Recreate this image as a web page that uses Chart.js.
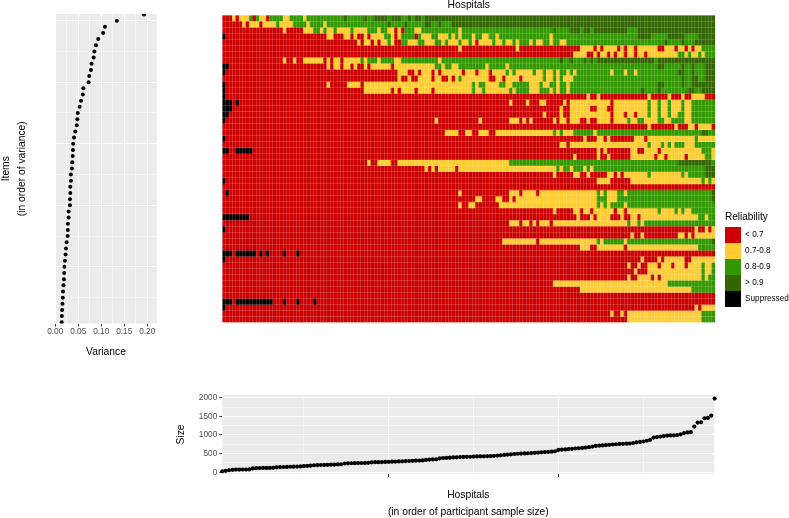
<!DOCTYPE html>
<html>
<head>
<meta charset="utf-8">
<style>
html,body{margin:0;padding:0;background:#fff;width:789px;height:518px;overflow:hidden}
canvas{position:absolute}
</style>
<script src="https://cdn.jsdelivr.net/npm/chart.js@4"></script>
</head>
<body>
<canvas id="variance" width="185" height="370" style="left:-10px;top:0"></canvas>
<canvas id="heat" width="789" height="340" style="left:0;top:-4px"></canvas>
<canvas id="size" width="560" height="140" style="left:170px;top:385px"></canvas>
<script>
// Variance of each item, from the top row of the panel to the bottom row
const itemVariance = [0.193,0.134,0.108,0.104,0.0935,0.0885,0.085,0.0835,0.079,0.0776,0.074,0.0726,0.061,0.060,0.056,0.053,0.049,0.048,0.047,0.0435,0.0407,0.039,0.0385,0.038,0.037,0.0363,0.034,0.0341,0.0327,0.0327,0.032,0.032,0.0291,0.0291,0.0276,0.0272,0.0269,0.0247,0.0233,0.0225,0.0211,0.02,0.0196,0.0189,0.0178,0.0171,0.0164,0.0157,0.015,0.0143,0.014];
const varianceTicks = [0,0.025,0.05,0.075,0.1,0.125,0.15,0.175,0.2];
const varianceMajor = [0,0.05,0.1,0.15,0.2];
const itemTicks = [5,10,15,20,25,30,35,40,45,50];
const itemMajor = [10,20,30,40,50];

// Participant sample size per hospital
const hospitalSize = [28,38,55,66,72,72,74,74,76,104,110,114,116,116,118,120,134,140,142,144,148,150,153,158,165,170,178,188,192,195,198,200,204,208,210,216,236,240,242,245,246,248,250,253,266,270,272,275,278,281,285,288,291,295,300,303,306,310,315,319,331,340,345,349,375,383,386,392,398,402,408,411,414,416,420,424,427,429,431,434,440,448,456,466,474,482,490,497,502,506,510,516,522,529,536,541,546,552,562,600,608,613,620,630,637,645,653,662,672,688,706,714,720,726,736,745,752,760,764,768,772,785,800,815,825,845,870,930,945,958,972,983,988,992,1000,1019,1050,1068,1075,1225,1332,1341,1448,1457,1520,1976];
const sizeTicksY = [0,250,500,750,1000,1250,1500,1750,2000];
const sizeMajorY = [0,500,1000,1500,2000];
const sizeTicksX = [25,50,75,100,125];
const sizeMajorX = [50,100];

// Reliability categories
const legendLabels = ['< 0.7','0.7-0.8','0.8-0.9','> 0.9','Suppressed'];
const legendCodes = ['R','Y','G','D','K'];
const legendColors = ['#CC0000','#FFCC33','#339900','#336600','#000000'];
const hospitalCount = 146;

// Reliability per row: each token is a category code and the column where it starts
const reliabilityRows = [
"R0 Y3 R4 Y5 G8 R9 G10 Y11 R13 G14 Y18 G20 Y24 G25 D36 G37 D42 G43 D45 G49 D50 G53 D55 G56 D57 G59 D60",
"R0 Y6 R7 Y8 R11 Y12 G16 Y17 G21 Y25 G26 Y30 G31 D49 G50 D54 G55 D60 G62 D64 G65 D68",
"R0 Y18 R19 Y24 G27 Y29 G30 Y31 G33 Y34 G38 Y39 G43 Y46 G47 Y49 R51 Y52 R53 G54 Y57 G59 Y70 G71 D98 G99 D103 G106 D107 G109 D110 G120 D123",
"K0 R1 Y31 R33 Y36 R38 Y39 R40 Y42 R43 Y44 G48 Y50 R51 Y52 G53 R57 G58 Y59 G62 Y64 G67 Y68 G69 Y70 G71 Y74 G75 Y77 G79 Y81 G82 Y97 G98 D123 G127 D132 G137 D141",
"R0 Y40 R41 Y42 R44 Y45 R46 Y47 G49 Y50 R51 G53 Y55 G58 Y60 G63 Y65 G66 Y67 G70 Y71 G73 Y74 R75 Y76 G80 Y81 G83 Y84 G86 Y87 G88 Y91 G92 Y93 G95 Y97 G98 Y100 G102 D131 G132 D136 G137 D140",
"R0 Y70 R71 Y87 R88 Y106 R110 Y111 R112 Y113 R117 Y118 R119 Y120 R122 Y123 R129 Y131 R134 Y135 R137 Y138 R139 Y140 G142",
"R0 Y104 R108 Y110 R111 Y112 R114 Y115 R116 Y117 R119 Y120 R122 Y123 R125 Y126 G135 Y137 G138 Y139 G141 Y142 G143",
"R0 Y18 R19 Y21 R22 Y24 R30 Y31 R32 Y33 R35 Y36 G41 Y42 G43 Y46 G47 Y51 G53 Y64 G65 D100 G101 D103 G104 D107 G108 D109 G110 D111 G128 D129",
"K0 R2 Y31 R32 Y33 R35 Y36 R38 Y39 R40 Y42 R43 Y44 R50 Y51 G63 Y65 G66 Y68 G70 Y78 G79 Y84 G85 D129 G131 D136 G137 D139 G140 D143",
"K0 R1 Y52 R55 Y57 R58 Y59 R62 Y63 R64 Y65 R71 Y72 R75 Y76 R79 Y80 G84 Y85 G86 Y87 G92 Y93 G95 Y96 G98 Y99 G100 Y102 G103 Y104 G105 Y115 G116 Y119 G120 Y122 G123 D135 G137 D139 G140 D143",
"R0 Y52 R53 Y55 R56 Y58 R62 Y63 R65 Y67 R68 Y69 G70 Y71 R79 Y81 R83 Y84 R88 Y89 G95 Y96 G98 Y99 G100 Y101 G104 D136 G137 D139 G141 D143",
"K0 R1 Y31 R32 Y37 R41 Y42 G74 Y75 G76 Y78 G82 Y84 G86 Y91 G94 Y95 G97 Y99 G100 Y102 G103 D129 G131 D136 G137 D139",
"K0 R1 Y42 R50 Y51 R52 Y53 R57 Y58 R62 Y63 G74 Y75 G77 Y78 G85 Y86 G87 Y91 G94 Y97 G98 Y99 G100 Y102 G103 D124 G125 D129 G130 D138 G140 D142",
"K0 R1 Y108 R109 Y111 R112 Y126 R127 Y132 R133 Y136 R137 Y139 R143",
"K0 R3 K4 R5 Y85 R86 Y90 R91 Y94 R96 Y101 R102 Y103 R115 Y116 G126 Y127 G129 Y130 G132 Y133 G136 Y137 G139",
"K0 R3 Y100 R101 Y103 R109 Y111 R114 Y116 G126 Y127 G129 Y130 G132 Y133 G136 Y137 G139",
"K0 R2 Y95 R96 Y100 R101 Y103 R115 Y116 R119 Y120 R122 Y123 G126 Y127 G129 Y130 G132 Y133 G135 Y137 G139",
"K0 R1 Y63 R64 Y76 R77 Y85 R88 Y89 R90 Y91 R92 Y98 R99 Y100 R102 Y103 R106 Y108 R109 Y111 R115 Y116 G120 Y121 G123 Y125 G129 Y131 G133 Y137 G139",
"R0 Y126 R127 Y134 R135 Y138 R140 Y141 R145",
"R0 Y66 R70 Y72 R74 Y76 R79 Y81 G98 Y99 G100 Y101 G104 Y110 G111 D142 G144",
"K0 R1 Y107 R108 Y111 R113 Y114 R115 Y122 R125 Y126 G140 Y141",
"R0 Y100 R102 Y103 G126 Y127 G130 Y131 G132 Y133 G134 Y137 G140",
"K0 R2 K4 R9 Y111 R112 Y113 R114 Y121 R123 Y125 R129 Y130 G142 Y145",
"R0 Y104 R105 Y111 R112 Y114 R115 Y121 R128 Y129 R131 Y132 R137 Y138 G143 Y145",
"R0 Y43 R44 Y46 R50 Y52 G85 D135 G145",
"R0 Y60 R61 Y62 R63 Y64 R69 Y70 G99 Y100 G101 Y103 G104 Y107 G108 Y109 G110 D143",
"R0 Y98 R99 Y104 R106 Y108 R109 Y114 R116 Y117 R118 Y119 G126 Y127 G136 Y137 G138 D143",
"K0 R1 Y111 R115 Y121 G142 Y143 G144 Y145",
"R0",
"R0 K1 R2 Y70 R71 Y85 R88 Y89 R93 Y94 G111 Y112 G113 Y114 G117 Y119 G120 D145",
"R0 Y75 R77 Y81 R83 Y85 R86 Y87 G111 Y114 G117 D145",
"R0 Y70 R71 Y73 R75 Y82 G111 Y112 G113 Y114 G115 Y119 G120",
"R0 Y98 R99 Y104 R106 Y107 R109 Y110 R116 Y117 R119 Y120 G129 Y130 G134 Y135 G136 Y137 G139",
"K0 R8 Y105 R106 Y109 R110 Y111 R115 Y118 R119 Y121 R123 Y124 G141 Y143 G144",
"R0 Y85 R88 Y89 R91 Y92 R93 Y94 R97 Y98 G120 Y121 G123 Y124 G125",
"K0 R1 Y140 R141 Y143 R144 Y145",
"R0 Y121 R122 Y124 R125 Y135 R137 Y138 R139 Y140",
"R0 Y83 R93 Y94 G111 Y112 G113 Y119 G120 D145",
"R0 Y106 R109 Y111 R119 Y120 G141",
"K0 R3 K4 R10 K11 R12 K13 R14 K18 R19 K22 R23",
"K0 R1 Y124 R125 Y129 R130 Y131 R137 Y139",
"R0 Y120 R121 Y123 R124 Y126 R129 Y130 R133 Y134 R137 Y138 G142 Y143 G145",
"R0 Y122 R123 Y126 G142 Y143 G145",
"R0 Y120 R121 Y123 R127 Y128 R129 Y130 G142 Y143 G144",
"R0 Y98 G132",
"R0 Y106 G139",
"R0",
"K0 R3 K4 R15 K18 R19 K22 R23 K27 R28",
"K0 R1 Y140 R141 Y142",
"R0 Y115 R116 Y118 R119 Y120 G142",
"R0 Y120 G142"
];

Chart.defaults.font.family = '"Liberation Sans", Arial, sans-serif';
Chart.defaults.animation = false;

const FONT = {tick: 8.3, title: 10.3};
const TICK = '#4D4D4D', PANEL = '#EBEBEB';

const panelBg = {
  id: 'panelBg',
  beforeDraw(chart) {
    const a = chart.chartArea, c = chart.ctx;
    c.save(); c.fillStyle = PANEL;
    c.fillRect(a.left, a.top, a.right - a.left, a.bottom - a.top);
    c.restore();
  }
};
const setTicks = list => scale => { scale.ticks = list.map(v => ({value: v})); };
const gridFor = (major, showTick) => ({
  color: '#FFFFFF',
  lineWidth: ctx => major.includes(ctx.tick.value) ? 1 : 0.5,
  tickColor: ctx => showTick && major.includes(ctx.tick.value) ? '#333333' : 'rgba(0,0,0,0)',
  tickLength: 3,
  tickWidth: 1,
  drawTicks: true
});

// Left panel: item variance
new Chart(document.getElementById('variance'), {
  type: 'scatter',
  data: {datasets: [{
    data: itemVariance.map((v, i) => ({x: v, y: itemVariance.length - i})),
    backgroundColor: '#000', borderWidth: 0, pointRadius: 2, clip: 0
  }]},
  options: {
    responsive: false,
    layout: {padding: {top: 14, right: 18}},
    plugins: {legend: {display: false}, tooltip: {enabled: false}},
    scales: {
      x: {
        type: 'linear', min: -0.0005, max: 0.2212,
        afterBuildTicks: setTicks(varianceTicks),
        afterFit: s => { s.height = 46.5; },
        border: {display: false},
        grid: gridFor(varianceMajor, true),
        ticks: {
          autoSkip: false, maxRotation: 0, padding: 0, color: TICK, font: {size: FONT.tick},
          callback: v => varianceMajor.includes(v) ? v.toFixed(2) : ''
        },
        title: {display: true, text: 'Variance', color: '#000', font: {size: FONT.title, lineHeight: 1.2}, padding: {top: 0, bottom: 12}}
      },
      y: {
        type: 'linear', min: 0.8, max: 51.08,
        afterBuildTicks: setTicks(itemTicks),
        afterFit: s => { s.width = 65; },
        border: {display: false},
        grid: Object.assign(gridFor(itemMajor, false), {drawTicks: false}),
        ticks: {display: false, autoSkip: false},
        title: {display: true, text: ['Items', '(in order of variance)'], color: '#000', font: {size: FONT.title, lineHeight: 1.55}, padding: {top: 8.5, bottom: 0}}
      }
    }
  },
  plugins: [panelBg]
});

// Heat map: one stacked bar dataset per row
const codeColor = Object.fromEntries(legendCodes.map((c, i) => [c, legendColors[i]]));
function rowColors(row) {
  const tokens = row.split(' ').map(t => [t[0], +t.slice(1)]);
  const out = [];
  for (let k = 0; k < tokens.length; k++) {
    const end = k + 1 < tokens.length ? tokens[k + 1][1] : hospitalCount;
    for (let c = tokens[k][1]; c < end; c++) out.push(codeColor[tokens[k][0]]);
  }
  return out;
}
const hospitalLabels = Array.from({length: hospitalCount}, (_, i) => i + 1);
const rowLines = Array.from({length: reliabilityRows.length + 1}, (_, i) => i);
const legendPlace = {
  id: 'legendPlace',
  beforeLayout(chart) {
    chart.legend.afterFit = function () { this.width = 74.7; };
  },
  afterLayout(chart) {
    const l = chart.legend;
    l.left = 725; l.right = 789; l.top = 215; l.bottom = 320;
  }
};
new Chart(document.getElementById('heat'), {
  type: 'bar',
  data: {
    labels: hospitalLabels,
    datasets: reliabilityRows.map(r => ({
      data: hospitalLabels.map(() => 1),
      backgroundColor: rowColors(r),
      borderWidth: 0,
      barPercentage: 1, categoryPercentage: 1
    }))
  },
  options: {
    responsive: false,
    layout: {padding: {left: 222.3, bottom: 13.5, right: 0, top: 0}},
    plugins: {
      tooltip: {enabled: false},
      title: {display: true, text: 'Hospitals', color: '#000', fullSize: false, font: {size: FONT.title, weight: 'normal', lineHeight: 1.2}, padding: {top: 3, bottom: 3.64}},
      legend: {
        position: 'right', align: 'start',
        title: {display: true, text: 'Reliability', color: '#000', font: {size: 10}, padding: {top: 1.5, bottom: 2.5}, position: 'start'},
        labels: {
          boxWidth: 16, boxHeight: 16, padding: 0, color: '#000', font: {size: 8.2},
          generateLabels: () => legendLabels.map((t, i) => ({text: t, fillStyle: legendColors[i], strokeStyle: legendColors[i], lineWidth: 0, hidden: false, fontColor: '#000'}))
        }
      }
    },
    scales: {
      x: {
        type: 'category', stacked: true, offset: true,
        afterFit: s => { s.height = 0; },
        border: {display: false},
        ticks: {display: false, autoSkip: false},
        grid: {z: 1, offset: true, drawTicks: false, color: 'rgba(255,255,255,0.16)', lineWidth: 1}
      },
      y: {
        type: 'linear', stacked: true, min: 0, max: reliabilityRows.length, reverse: true,
        afterBuildTicks: setTicks(rowLines),
        afterFit: s => { s.width = 0; },
        border: {display: false},
        ticks: {display: false, autoSkip: false},
        grid: {z: 1, drawTicks: false, color: 'rgba(255,255,255,0.16)', lineWidth: 1}
      }
    }
  },
  plugins: [legendPlace]
});

// Bottom panel: hospital size
new Chart(document.getElementById('size'), {
  type: 'scatter',
  data: {datasets: [{
    data: hospitalSize.map((v, i) => ({x: i + 1, y: v})),
    backgroundColor: '#000', borderWidth: 0, pointRadius: 2.1, clip: false
  }]},
  options: {
    responsive: false,
    layout: {padding: {top: 10, right: 15.7}},
    plugins: {legend: {display: false}, tooltip: {enabled: false}},
    scales: {
      x: {
        type: 'linear', min: 1, max: 145.9,
        afterBuildTicks: setTicks(sizeTicksX),
        afterFit: s => { s.height = 51; },
        border: {display: false},
        grid: gridFor(sizeMajorX, true),
        ticks: {autoSkip: false, maxRotation: 0, callback: () => ''},
        title: {display: true, text: ['Hospitals', '(in order of participant sample size)'], color: '#000', font: {size: FONT.title, lineHeight: 1.72}, padding: {top: 0, bottom: 3.6}}
      },
      y: {
        type: 'linear', min: -46, max: 2072,
        afterBuildTicks: setTicks(sizeTicksY),
        afterFit: s => { s.width = 52.3; },
        border: {display: false},
        grid: gridFor(sizeMajorY, true),
        ticks: {autoSkip: false, padding: 2, color: TICK, font: {size: FONT.tick}, callback: v => sizeMajorY.includes(v) ? String(v) : ''},
        title: {display: true, text: 'Size', color: '#000', font: {size: FONT.title, lineHeight: 1.2}, padding: {top: 5, bottom: 0}}
      }
    }
  },
  plugins: [panelBg]
});
</script>
</body>
</html>
